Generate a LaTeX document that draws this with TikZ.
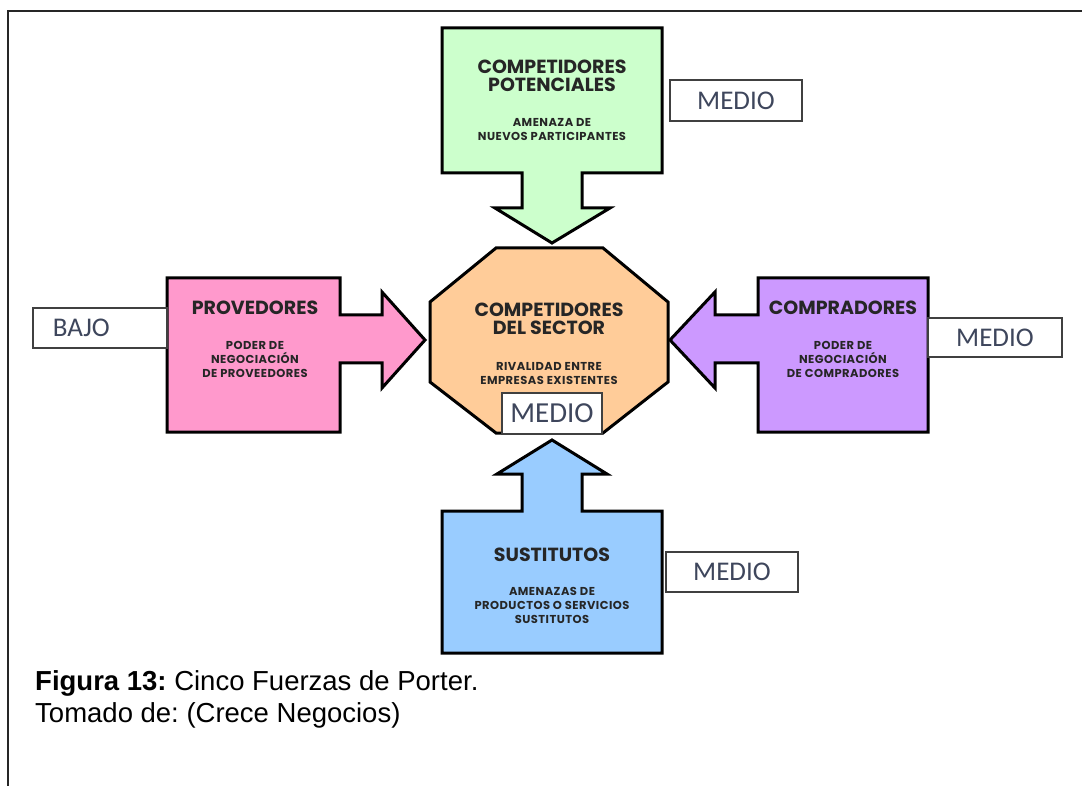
\documentclass[tikz,border=0pt]{standalone}
\usepackage{fontspec}
\setmainfont{Liberation Sans}
\newfontfamily\forcefont{Poppins}
\newfontfamily\forcesubfont[LetterSpace=4]{Poppins}
\newfontfamily\ratefont{Carlito}
\definecolor{fgreen}{HTML}{CCFFCC}
\definecolor{fpink}{HTML}{FF99CC}
\definecolor{fpurple}{HTML}{CC99FF}
\definecolor{forange}{HTML}{FFCC99}
\definecolor{fblue}{HTML}{99CCFF}
\definecolor{forceink}{HTML}{262626}
\definecolor{rateink}{HTML}{3E465C}
\tikzset{
  forceshape/.style={draw=black, line width=3pt, line join=miter},
  forcetitle/.style={font=\forcefont\bfseries\fontsize{19}{18}\selectfont, text=forceink, align=center, inner sep=0pt},
  forcesub/.style={font=\forcesubfont\bfseries\fontsize{11.5}{14}\selectfont, text=forceink, align=center, inner sep=0pt},
  ratebox/.style={draw=black!75, line width=1.6pt, fill=white, inner sep=0pt,
    font=\ratefont\fontsize{27}{27}\selectfont, text=rateink},
  caption/.style={font=\fontsize{27.5}{32}\selectfont\frenchspacing, anchor=base west, inner sep=0pt, align=left}
}
\begin{document}
\begin{tikzpicture}[x=1pt, y=-1pt]
\useasboundingbox (0,0) rectangle (1082,786);
% page frame (left and top rules)
\draw[line width=2.5pt, black!85] (8,786) -- (8,11) -- (1082,11);

% potential entrants: box with downward arrow
\draw[forceshape, fill=fgreen] (442,28) -- (662,28) -- (662,173) -- (582,173) -- (582,208) -- (610,208)
  -- (552,243) -- (495,208) -- (522,208) -- (522,173) -- (442,173) -- cycle;
% suppliers: box with arrow to the right
\draw[forceshape, fill=fpink] (167,278) -- (340,278) -- (340,315) -- (382,315) -- (382,292) -- (425,340)
  -- (382,388) -- (382,363) -- (340,363) -- (340,432) -- (167,432) -- cycle;
% buyers: box with arrow to the left
\draw[forceshape, fill=fpurple] (758,278) -- (928,278) -- (928,432) -- (758,432) -- (758,363) -- (715,363)
  -- (715,388) -- (670,340) -- (715,292) -- (715,315) -- (758,315) -- cycle;
% substitutes: box with upward arrow
\draw[forceshape, fill=fblue] (442,511) -- (522,511) -- (522,474) -- (497,474) -- (552,440) -- (607,474)
  -- (582,474) -- (582,511) -- (662,511) -- (662,653) -- (442,653) -- cycle;
% industry rivalry: octagon
\draw[forceshape, fill=forange] (496,248) -- (603,248) -- (668,302) -- (668,382) -- (603,433)
  -- (496,433) -- (430,382) -- (430,302) -- cycle;

% texts
\node[forcetitle] (entT) at (552,76) {COMPETIDORES\\POTENCIALES};
\node[forcesub] (entS) at (552,130) {AMENAZA DE\\NUEVOS PARTICIPANTES};
\node[forcetitle] (supT) at (255,308) {PROVEDORES};
\node[forcesub] (supS) at (255,359) {PODER DE\\NEGOCIACIÓN\\DE PROVEEDORES};
\node[forcetitle] (buyT) at (843,308) {COMPRADORES};
\node[forcesub] (buyS) at (843,359) {PODER DE\\NEGOCIACIÓN\\DE COMPRADORES};
\node[forcetitle] (rivT) at (549,319) {COMPETIDORES\\DEL SECTOR};
\node[forcesub] (rivS) at (549,374) {RIVALIDAD ENTRE\\EMPRESAS EXISTENTES};
\node[forcetitle] (subT) at (552,555) {SUSTITUTOS};
\node[forcesub] (subS) at (552,605) {AMENAZAS DE\\PRODUCTOS O SERVICIOS\\SUSTITUTOS};

% ratings
\node[ratebox, minimum width=132pt, minimum height=41pt] (rEnt) at (736,100.5) {MEDIO};
\node[ratebox, minimum width=134pt, minimum height=40pt, text width=104pt, inner xsep=15pt, align=left] (rSup) at (100,328) {\hspace*{5pt}BAJO};
\node[ratebox, minimum width=134pt, minimum height=39pt] (rBuy) at (995,337.5) {MEDIO};
\node[ratebox, minimum width=100pt, minimum height=41pt, font=\ratefont\fontsize{29}{29}\selectfont] (rRiv) at (552,413.5) {MEDIO};
\node[ratebox, minimum width=132pt, minimum height=40pt] (rSub) at (732,572) {MEDIO};

% caption
\node[caption] (cap1) at (35,690) {\textbf{Figura 13:} Cinco Fuerzas de Porter.};
\node[caption] (cap2) at (35,722) {Tomado de: (Crece Negocios)};
\end{tikzpicture}
\end{document}
